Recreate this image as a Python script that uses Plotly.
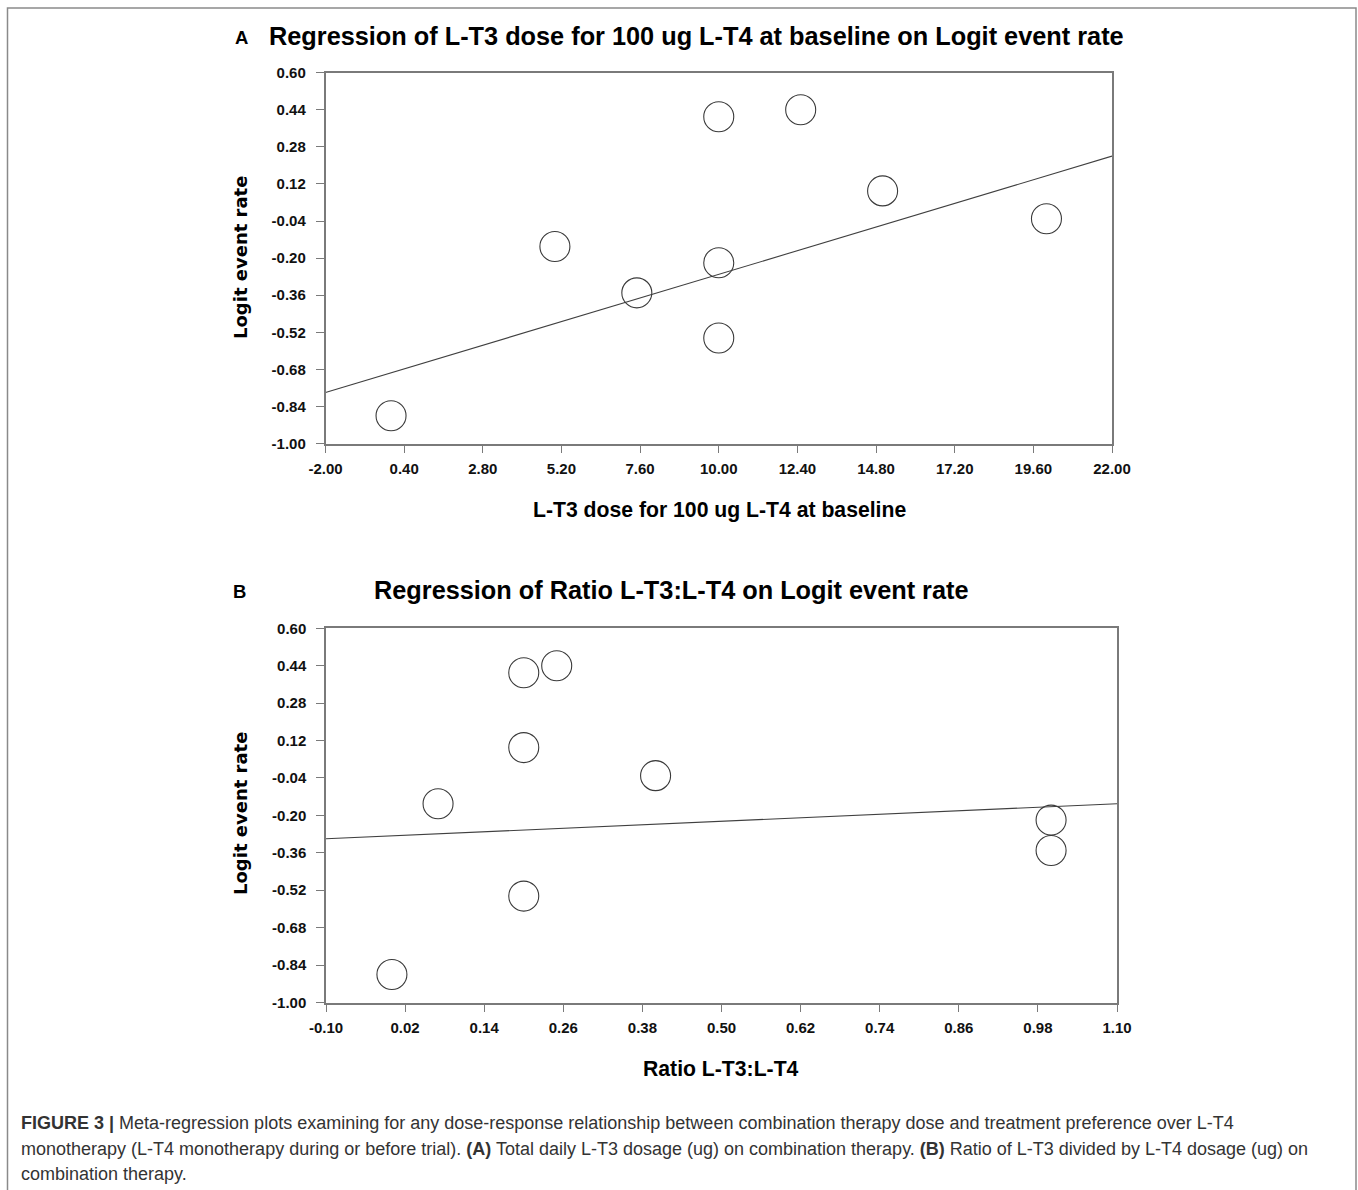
import plotly.graph_objects as go

# ---- data -------------------------------------------------------------
# one entry per study: x for each panel, shared logit event rate
dose_l_t3 = [0.0, 5.0, 7.5, 10.0, 10.0, 10.0, 12.5, 15.0, 20.0]
ratio_t3_t4 = [0.0, 0.07, 1.0, 0.20, 1.0, 0.20, 0.25, 0.20, 0.40]
logit_rate = [-0.88, -0.15, -0.35, 0.41, -0.22, -0.545, 0.44, 0.09, -0.03]

# meta-regression fits (intercept, slope)
fit_a = (-0.695, 0.0425)
fit_b = (-0.2875, 0.125)

x_ticks_a = [-2.00, 0.40, 2.80, 5.20, 7.60, 10.00, 12.40, 14.80, 17.20, 19.60, 22.00]
x_ticks_b = [-0.10, 0.02, 0.14, 0.26, 0.38, 0.50, 0.62, 0.74, 0.86, 0.98, 1.10]
y_ticks = [0.60, 0.44, 0.28, 0.12, -0.04, -0.20, -0.36, -0.52, -0.68, -0.84, -1.00]

title_a = "Regression of L-T3 dose for 100 ug L-T4 at baseline on Logit event rate"
title_b = "Regression of Ratio L-T3:L-T4 on Logit event rate"
xlabel_a = "L-T3 dose for 100 ug L-T4 at baseline"
xlabel_b = "Ratio L-T3:L-T4"
ylabel = "Logit event rate"
caption_lines = [
    "<b>FIGURE 3 |</b> Meta-regression plots examining for any dose-response relationship "
    "between combination therapy dose and treatment preference over L-T4",
    "monotherapy (L-T4 monotherapy during or before trial). <b>(A)</b> Total daily L-T3 dosage "
    "(ug) on combination therapy. <b>(B)</b> Ratio of L-T3 divided by L-T4 dosage (ug) on",
    "combination therapy.",
]

# ---- geometry (pixels) --------------------------------------------------
W, H = 1358, 1190


def px_x(p):
    return p / W


def px_y(p):
    return 1 - p / H


AXIS_GREY = "#7a7a7a"
INK = "#333333"
SANS = "Liberation Sans, Arial, sans-serif"

fig = go.Figure()


def add_panel(xs, ys, fit, xr, xaxis, yaxis):
    fig.add_trace(go.Scatter(
        x=[xr[0], xr[1]],
        y=[fit[0] + fit[1] * xr[0], fit[0] + fit[1] * xr[1]],
        mode="lines", line=dict(color="#404040", width=1.1),
        xaxis=xaxis, yaxis=yaxis, showlegend=False, hoverinfo="skip",
    ))
    fig.add_trace(go.Scatter(
        x=xs, y=ys, mode="markers",
        marker=dict(symbol="circle-open", size=30, color="#3a3a3a",
                    line=dict(width=1.1, color="#3a3a3a")),
        xaxis=xaxis, yaxis=yaxis, showlegend=False,
    ))


add_panel(dose_l_t3, logit_rate, fit_a, (x_ticks_a[0], x_ticks_a[-1]), "x", "y")
add_panel(ratio_t3_t4, logit_rate, fit_b, (x_ticks_b[0], x_ticks_b[-1]), "x2", "y2")


def axis_style(ticks, rng, domain, anchor, standoff):
    return dict(
        domain=domain, anchor=anchor, range=rng,
        tickmode="array", tickvals=ticks, ticktext=["%.2f" % t for t in ticks],
        showgrid=False, zeroline=False,
        showline=True, mirror=True, linecolor=AXIS_GREY, linewidth=1.5,
        ticks="outside", ticklen=8, tickwidth=1.2, tickcolor=AXIS_GREY,
        tickfont=dict(family=SANS, size=15, color="#111111", weight="bold"),
        ticklabelstandoff=standoff,
    )


fig.update_layout(
    width=W, height=H,
    margin=dict(l=0, r=0, t=0, b=0, autoexpand=False),
    paper_bgcolor="white", plot_bgcolor="white",
    xaxis=axis_style(x_ticks_a, [x_ticks_a[0], x_ticks_a[-1]],
                     [px_x(325.5), px_x(1112)], "y", 3),
    yaxis=axis_style(y_ticks, [y_ticks[-1], y_ticks[0]],
                     [px_y(443.5), px_y(72.7)], "x", 7),
    xaxis2=axis_style(x_ticks_b, [x_ticks_b[0], x_ticks_b[-1]],
                      [px_x(326), px_x(1117)], "y2", 3),
    yaxis2=axis_style(y_ticks, [y_ticks[-1], y_ticks[0]],
                      [px_y(1002.5), px_y(628.3)], "x2", 7),
)

ann = []


def text(x, y, s, size, family=SANS, color="#000000", bold=True, angle=0,
         xanchor="center"):
    ann.append(dict(
        x=px_x(x), y=px_y(y), xref="paper", yref="paper", text=s,
        showarrow=False, textangle=angle, xanchor=xanchor, yanchor="middle",
        font=dict(family=family, size=size, color=color,
                  weight="bold" if bold else "normal"),
    ))


# panel A
text(241, 37, "A", 18.5)
text(697, 36, title_a, 25.3)
text(719, 510, xlabel_a, 21.2)
text(240, 258, ylabel, 18, family="DejaVu Sans, Verdana, sans-serif", angle=-90)
# panel B
text(239, 591, "B", 18.5)
text(671, 590, title_b, 25.3)
text(721, 1068, xlabel_b, 21.2)
text(240, 814, ylabel, 18, family="DejaVu Sans, Verdana, sans-serif", angle=-90)

# caption
for i, line in enumerate(caption_lines):
    text(19, 1123 + i * 25.5, line, 18, color=INK, bold=False, xanchor="left")

fig.update_layout(annotations=ann)

# outer frame around figure and caption
fig.add_shape(type="rect", xref="paper", yref="paper",
              x0=px_x(7.5), x1=px_x(1356), y0=-0.02, y1=px_y(8),
              line=dict(color="#8a8a8a", width=1.5))

fig.write_html(
    "out.html",
    config={"responsive": False},
    post_script="document.body.style.margin='0';document.body.style.overflow='hidden';",
)
